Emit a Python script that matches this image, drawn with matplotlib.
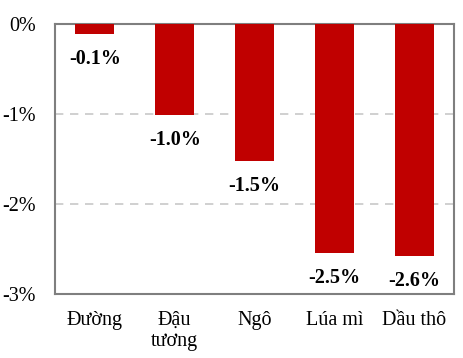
import matplotlib.pyplot as plt
import numpy as np

plt.rcParams['font.family'] = ['Liberation Serif', 'DejaVu Serif']

categories = ['Đường', 'Đậu\ntương', 'Ngô', 'Lúa mì', 'Dầu thô']
values = [-0.11, -1.01, -1.52, -2.54, -2.58]
labels = ['-0.1%', '-1.0%', '-1.5%', '-2.5%', '-2.6%']
yticks = [0, -1, -2, -3]
ytick_labels = ['0%', '-1%', '-2%', '-3%']

fig = plt.figure(figsize=(4.63, 3.58), dpi=100)
ax = fig.add_axes([55 / 463, 1 - 294 / 358, 399 / 463, 270 / 358])

x = np.arange(len(categories))
ax.bar(x, values, width=0.49, color='#C00000', zorder=3)

for xi, v, lab in zip(x, values, labels):
    ax.annotate(lab, (xi, v), xytext=(0, -11), textcoords='offset points',
                ha='center', va='top', fontsize=14.5, fontweight='bold')

ax.set_xlim(-0.5, len(categories) - 0.5)
ax.set_ylim(-3, 0)
ax.set_yticks(yticks)
ax.set_yticklabels(ytick_labels, fontsize=14.5)
ax.set_xticks(x)
ax.set_xticklabels(categories, fontsize=14.5, va='top', linespacing=1.15)
ax.tick_params(length=0)
ax.tick_params(axis='x', pad=12)
ax.tick_params(axis='y', pad=14)

for y in [-1, -2]:
    ax.axhline(y, color='#C8C8C8', linestyle=(0, (5, 4)), linewidth=1.2, zorder=1)

for s in ax.spines.values():
    s.set_color('#7F7F7F')
    s.set_linewidth(1.5)

fig.savefig('out.png', dpi=100)
